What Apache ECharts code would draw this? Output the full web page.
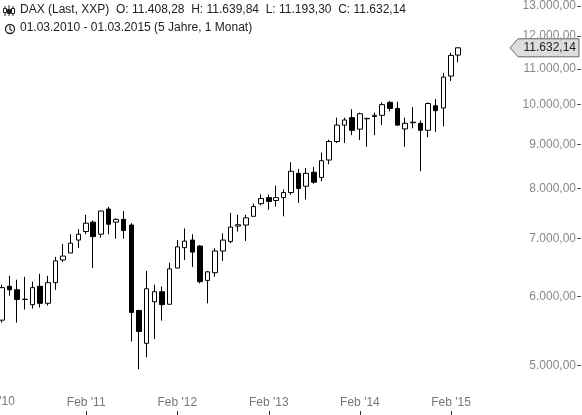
<!DOCTYPE html>
<html>
<head>
<meta charset="utf-8">
<script src="https://cdn.jsdelivr.net/npm/echarts@6/dist/echarts.min.js"></script>
<style>
  html, body { margin: 0; padding: 0; background: #fff; }
  #chart { width: 582px; height: 415px; }
</style>
</head>
<body>
<div id="chart"></div>
<script>
// monthly DAX candles, Mar 2010 .. Mar 2015
const opens = [5637, 6168, 6111, 5960, 5874, 6168, 5895, 6228, 6616, 6740, 6975, 7135, 7315, 7085, 7575, 7315, 7370, 7260, 5785, 5300,
  5920, 6080, 5880, 6475, 6835, 6975, 6865, 6265, 6395, 6775, 6950, 7240, 7260, 7430, 7685, 7810, 7750, 7810, 7915, 8330,
  8050, 8355, 8240, 8630, 9065, 9470, 9660, 9370, 9630, 9690, 9720, 10060, 9900, 9375, 9530, 9515, 9340, 9970, 9910, 10790, 11408.28]
const closes = [6146, 6111, 5956, 5956, 6146, 5895, 6228, 6600, 6685, 6918, 7085, 7295, 7040, 7535, 7275, 7370, 7155, 5754, 5470, 6128,
  6080, 5874, 6460, 6850, 6955, 6755, 6245, 6410, 6775, 6975, 7220, 7265, 7400, 7625, 7790, 7730, 7810, 7915, 8375, 8000,
  8330, 8135, 8615, 9065, 9470, 9600, 9340, 9760, 9640, 9720, 10000, 9900, 9470, 9515, 9545, 9340, 10030, 9840, 10760, 11400, 11632.14]
const lows = [5600, 6016, 5600, 5798, 5813, 5830, 5860, 6110, 6580, 6740, 6830, 7085, 6475, 7020, 7085, 7000, 7000, 5325, 4947, 5106,
  5360, 5630, 5880, 6475, 6615, 6495, 6215, 5895, 6325, 6600, 6920, 7135, 6960, 7430, 7650, 7560, 7625, 7430, 7870, 7700,
  7770, 8100, 8155, 8535, 9030, 9030, 9220, 9100, 8940, 9220, 9470, 9820, 9450, 8940, 9390, 8375, 9170, 9300, 9440, 10650, 11193.30]
const highs = [6195, 6343, 6277, 6326, 6245, 6377, 6343, 6670, 6900, 7085, 7180, 7460, 7350, 7540, 7620, 7390, 7535, 7295, 5785, 6425,
  6195, 6165, 6565, 6975, 7195, 7085, 6880, 6425, 6825, 7100, 7500, 7460, 7460, 7685, 7875, 7875, 8060, 7980, 8580, 8430,
  8450, 8470, 8800, 9110, 9660, 9660, 9880, 9790, 9660, 9790, 10060, 10100, 10080, 9660, 9930, 9590, 10060, 10150, 10880, 11480, 11639.84]
const yTicks = [5000, 6000, 7000, 8000, 9000, 10000, 11000, 12000, 13000]
const xTickYears = [2010, 2011, 2012, 2013, 2014, 2015]
const lastPrice = 11632.14

const months = opens.map((o, i) => Date.UTC(2010, 2 + i, 1))
const candles = opens.map((o, i) => [months[i], o, closes[i], lows[i], highs[i]])
const xTicks = xTickYears.map(y => Date.UTC(y, 1, 1))

const DAY = 86400000
const xMin = Date.UTC(2010, 1, 21)
const xMax = xMin + 2326 * DAY

function de (v) {
  return v.toLocaleString('de-DE', { minimumFractionDigits: 2, maximumFractionDigits: 2 })
}
const xLabel = v => "Feb '" + String(new Date(v).getUTCFullYear()).slice(2)

const font = 'Liberation Sans, Arial, sans-serif'
let myChart = echarts.init(document.getElementById('chart'))
myChart.setOption({
  animation: false,
  textStyle: { fontFamily: font },
  grid: { left: 0, right: 1, top: 0, bottom: 0 },
  xAxis: {
    type: 'value',
    min: xMin,
    max: xMax,
    axisLine: { show: false },
    splitLine: { show: false },
    axisTick: { show: true, inside: true, length: 4, lineStyle: { color: '#333' }, customValues: xTicks },
    axisLabel: {
      inside: true, margin: 6, color: '#777', fontSize: 12, fontFamily: font,
      customValues: xTicks.slice(1),
      formatter: xLabel
    }
  },
  yAxis: {
    type: 'log',
    position: 'right',
    min: 4380,
    max: 13130,
    axisLine: { show: false },
    splitLine: { show: false },
    axisTick: { show: true, inside: true, length: 4, lineStyle: { color: '#555' }, customValues: yTicks },
    axisLabel: { inside: true, margin: 5, color: '#888', fontSize: 12, fontFamily: font,
      customValues: yTicks, formatter: v => de(v) }
  },
  series: [{
    type: 'candlestick',
    data: candles,
    barWidth: 5,
    itemStyle: { color: '#fff', color0: '#000', borderColor: '#000', borderColor0: '#000', borderWidth: 1 }
  }]
})

const py = myChart.convertToPixel({ yAxisIndex: 0 }, lastPrice)
const px10 = myChart.convertToPixel({ xAxisIndex: 0 }, xTicks[0])
myChart.setOption({
  graphic: [
    { type: 'text', left: 20, top: 4, style: { text: 'DAX (Last, XXP)  O: 11.408,28  H: 11.639,84  L: 11.193,30  C: 11.632,14', font: '12px ' + font, fill: '#222' } },
    { type: 'text', left: 20, top: 22, style: { text: '01.03.2010 - 01.03.2015 (5 Jahre, 1 Monat)', font: '12px ' + font, fill: '#222' } },
    { type: 'text', x: px10, y: 402, style: { text: xLabel(xTicks[0]), font: '12px ' + font, fill: '#777', align: 'center', verticalAlign: 'middle' } },
    { type: 'circle', shape: { cx: 10, cy: 29, r: 4.5 }, style: { fill: 'none', stroke: '#222', lineWidth: 1.3 } },
    { type: 'polyline', shape: { points: [[10, 26], [10, 29], [12, 31]] }, style: { stroke: '#222', lineWidth: 1.2, fill: 'none' } },
    { type: 'group', children: [
      { type: 'line', shape: { x1: 5, y1: 6, x2: 5, y2: 16 }, style: { stroke: '#222' } },
      { type: 'rect', shape: { x: 3.5, y: 8.5, width: 3, height: 4 }, style: { fill: '#fff', stroke: '#222' } },
      { type: 'line', shape: { x1: 9, y1: 5, x2: 9, y2: 16 }, style: { stroke: '#222' } },
      { type: 'rect', shape: { x: 7.5, y: 9.5, width: 3, height: 4 }, style: { fill: '#222', stroke: '#222' } },
      { type: 'line', shape: { x1: 13, y1: 6, x2: 13, y2: 16 }, style: { stroke: '#222' } },
      { type: 'rect', shape: { x: 11.5, y: 8.5, width: 3, height: 5 }, style: { fill: '#fff', stroke: '#222' } }
    ] },
    { type: 'polygon', shape: { points: [[510, py], [518, py - 9], [579, py - 9], [579, py + 9], [518, py + 9]] },
      style: { fill: '#ddd', stroke: '#666', lineWidth: 1 } },
    { type: 'text', x: 576, y: py, style: { text: de(lastPrice), font: '12px ' + font, fill: '#222', align: 'right', verticalAlign: 'middle' } }
  ]
})
</script>
</body>
</html>
